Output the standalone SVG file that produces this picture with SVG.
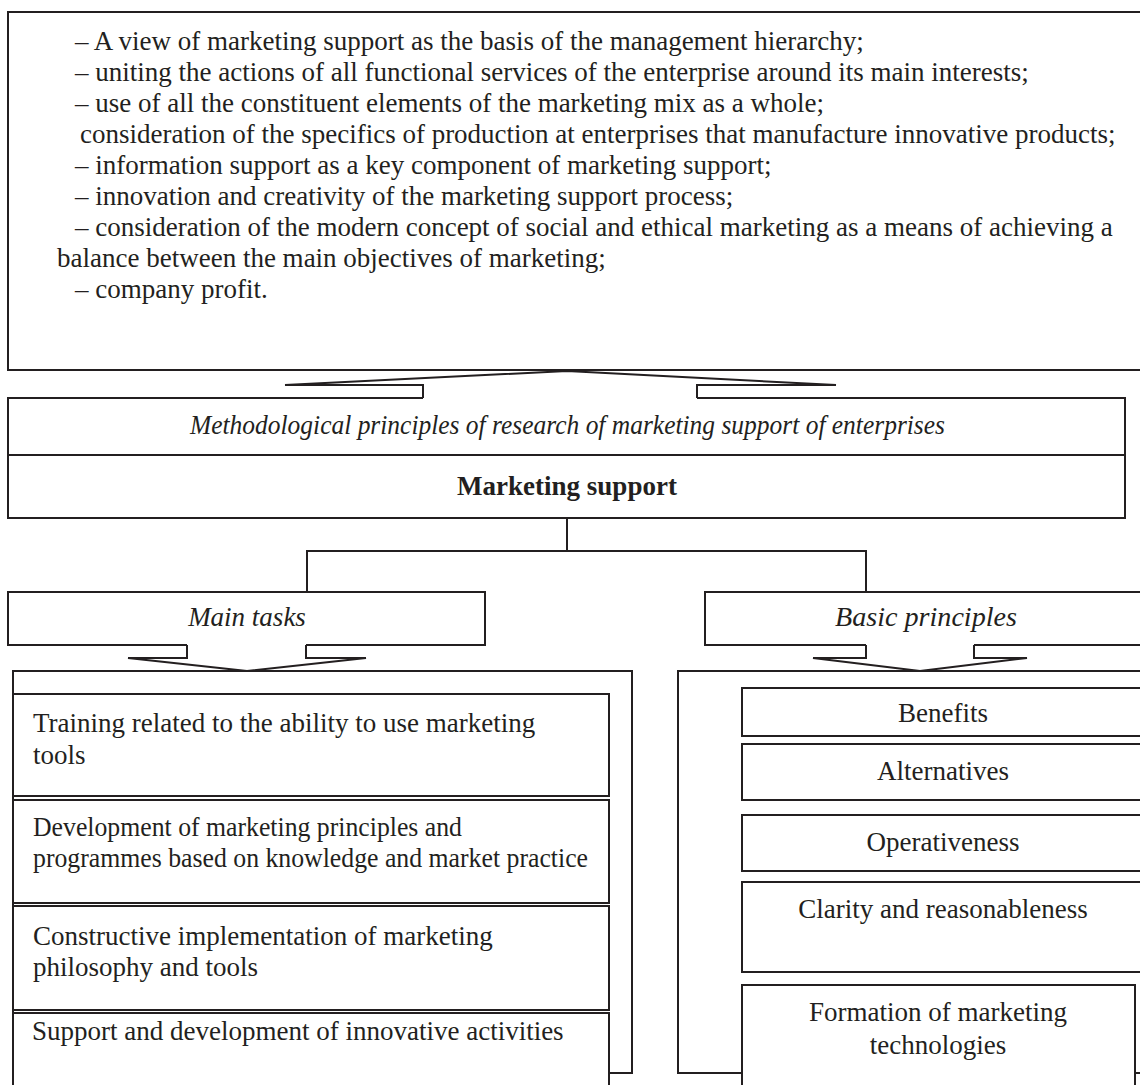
<svg xmlns="http://www.w3.org/2000/svg" width="1140" height="1085" viewBox="0 0 1140 1085">
<style>
  .ln{fill:none;stroke:#231f20;stroke-width:2;stroke-linejoin:miter}
  .box{fill:#ffffff;stroke:#231f20;stroke-width:2}
  .t{font-family:"Liberation Serif","Times New Roman",serif;font-size:27px;fill:#231f20}
  .i{font-style:italic}
  .b{font-weight:bold}
  .c{text-anchor:middle}
</style>
<rect x="0" y="0" width="1140" height="1085" fill="#ffffff"/>

<g id="principles-list">
  <path class="ln" d="M1150,12 H8 V370 H1150"/>
  <text class="t" x="75" y="50">– A view of marketing support as the basis of the management hierarchy;</text>
  <text class="t" x="75" y="81">– uniting the actions of all functional services of the enterprise around its main interests;</text>
  <text class="t" x="75" y="112">– use of all the constituent elements of the marketing mix as a whole;</text>
  <text class="t" x="80" y="143">consideration of the specifics of production at enterprises that manufacture innovative products;</text>
  <text class="t" x="75" y="174">– information support as a key component of marketing support;</text>
  <text class="t" x="75" y="205">– innovation and creativity of the marketing support process;</text>
  <text class="t" x="75" y="236">– consideration of the modern concept of social and ethical marketing as a means of achieving a</text>
  <text class="t" x="57" y="267">balance between the main objectives of marketing;</text>
  <text class="t" x="75" y="298">– company profit.</text>
</g>

<g id="methodological">
  <path class="ln" d="M423,398 H8 V455 H1125 V398 H697"/>
  <text class="t i" x="190" y="434" textLength="755" lengthAdjust="spacingAndGlyphs">Methodological principles of research of marketing support of enterprises</text>
</g>

<g id="marketing-support">
  <path class="ln" d="M8,455 V518 H1125 V455"/>
  <text class="t b c" x="567" y="495">Marketing support</text>
</g>

<g id="main-tasks">
  <path class="ln" d="M187,645 H8 V592 H485 V645 H306"/>
  <text class="t i c" x="247" y="626">Main tasks</text>
</g>

<g id="basic-principles">
  <path class="ln" d="M866,645 H705 V592 H1150 M1150,645 H974"/>
  <text class="t i" x="835" y="626" textLength="182" lengthAdjust="spacingAndGlyphs">Basic principles</text>
</g>

<g id="connectors">
  <path class="ln" d="M423,398 V385 H285 L567,371 L836,385 H697 V398"/>
  <path class="ln" d="M567,518 V551"/>
  <path class="ln" d="M307,592 V551 H866 V592"/>
  <path class="ln" d="M187,645 V658 H128 L247,671 L366,658 H306 V645"/>
  <path class="ln" d="M866,645 V658 H813 L920,671 L1027,658 H974 V645"/>
</g>

<g id="tasks-container">
  <path class="ln" d="M609,1073 H632 V671 H13 V1090"/>
</g>
<g id="task-1">
  <rect class="box" x="13" y="694" width="596" height="102"/>
  <text class="t" x="33" y="732">Training related to the ability to use marketing</text>
  <text class="t" x="33" y="764">tools</text>
</g>
<g id="task-2">
  <rect class="box" x="13" y="800" width="596" height="103"/>
  <text class="t" x="33" y="836" textLength="429" lengthAdjust="spacingAndGlyphs">Development of marketing principles and</text>
  <text class="t" x="33" y="867" textLength="555" lengthAdjust="spacingAndGlyphs">programmes based on knowledge and market practice</text>
</g>
<g id="task-3">
  <rect class="box" x="13" y="906" width="596" height="104"/>
  <text class="t" x="33" y="945">Constructive implementation of marketing</text>
  <text class="t" x="33" y="976">philosophy and tools</text>
</g>
<g id="task-4">
  <rect class="box" x="13" y="1013" width="596" height="90"/>
  <text class="t" x="32" y="1040">Support and development of innovative activities</text>
</g>

<g id="principles-container">
  <path class="ln" d="M742,1073 H678 V671 H1150 M1135,1073 H1150"/>
</g>
<g id="benefits">
  <rect class="box" x="742" y="688" width="420" height="48"/>
  <text class="t c" x="943" y="722">Benefits</text>
</g>
<g id="alternatives">
  <rect class="box" x="742" y="744" width="420" height="56"/>
  <text class="t c" x="943" y="780">Alternatives</text>
</g>
<g id="operativeness">
  <rect class="box" x="742" y="815" width="420" height="56"/>
  <text class="t c" x="943" y="851">Operativeness</text>
</g>
<g id="clarity">
  <rect class="box" x="742" y="882" width="420" height="90"/>
  <text class="t c" x="943" y="918">Clarity and reasonableness</text>
</g>
<g id="formation">
  <rect class="box" x="742" y="985" width="393" height="120"/>
  <text class="t c" x="938" y="1021">Formation of marketing</text>
  <text class="t c" x="938" y="1054">technologies</text>
</g>
</svg>
